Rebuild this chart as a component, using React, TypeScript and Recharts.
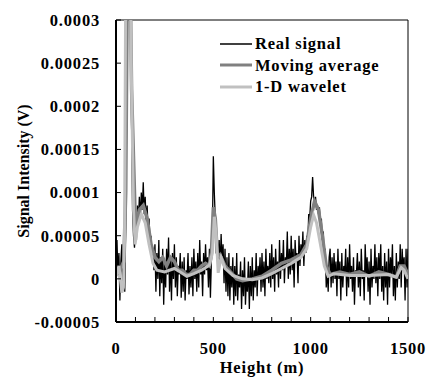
import React from 'react';
import { LineChart, Line, XAxis, YAxis, ReferenceLine } from 'recharts';

// values in units of 1e-5 V
const UNIT = 1e-5;
const REAL_STEP_M = 5;
const REAL_SIGNAL = [
  1.0, 4.5, 0.5, 3.0, -2.5, 2.0, 4.0, -1.0, 3.0, -1.5,
  6, 20, 45, 50, 40, 30, 18, 8, 5, 3.6,
  6, 4.5, 8.5, 6.5, 9.5, 7, 10, 8, 11.2, 7.5,
  9.5, 6.5, 8.5, 5.5, 7, 4, 5, 2.5, 3.5, 1,
  4, -1.5, 3, 0, 4.5, -2, 2.5, -0.5, 3.5, -3,
  2, -1, 3.5, 0.5, 4.8, -1.5, 2.5, -2.5, 3, 0,
  4, -1, 2.5, -2, 1.5, 0.5, 3, -2.2, 2, -1.5,
  2.5, -2.5, 1, 0, 3, -1.8, 1.5, -1, 2.5, -2,
  3.5, 0, 2, -1.5, 3, -1, 4.5, 0.5, 2, -2,
  3, 0.5, 4, 1, 2.5, -1, 3.5, -2.2, 2, 5,
  14.2, 10, 7, 3, 5, 2, 4.5, 1.5, 5.2, 2,
  4, -0.5, 3.5, -1.5, 2.5, -2, 3, -2.5, 1.5, -1,
  2.5, -3, 1.5, -2, 3, -2.5, 0.5, -1, 2, -3.5,
  1, -2, 2.5, -3, 0, -1.5, 2, -3.5, 1.5, -2,
  2.5, -2.5, 1, -1, 3, -2, 1.5, 0, 2.5, -1.5,
  3, -1, 2, -2, 3.5, 0, 1.5, -0.5, 3, -1,
  4, 0, 2.5, -1.5, 3.5, 0.5, 2, -1, 4.5, 0,
  3, 1, 4.5, -0.5, 2.5, 1.5, 5.5, 0, 3.5, 0.5,
  5, 1, 3.5, -1, 4.5, 2, 3, -0.5, 5, 1.5,
  4, 2.5, 5.5, 1.5, 4.5, 3, 5, 4, 7.5, 7,
  9, 9.5, 11.8, 9.5, 9, 9.5, 8, 8.5, 7.5, 8.3,
  6.5, 7, 4.5, 5.5, 2, 3.5, -1, 1, -1.5, 2.5,
  3.5, -1, 2.5, -0.5, 3, 0, 2, -2, 3.5, 0,
  2, -2.5, 3, -1, 1.5, 0.5, 3.5, -2, 2.5, -1,
  4, 0, 1.5, -1.5, 2.5, -3, 1, 0.5, 3, -1,
  2, -2, 3.5, 0, 1, -2.5, 4, 0.5, 2.5, -1.5,
  2, -3, 3.5, -1, 1.5, 0, 4, -0.5, 2.5, -2,
  3, 0, 4, -1.5, 1.5, -2.5, 3, -1, 2, -3,
  3.5, -1, 2.5, 0.5, 4, -2, 1.5, -2.5, 3, -1,
  2, 0, 4, -1, 3.5, 1, 2.5, -2.5, 3.5, -1,
  3.5,
];

const MA_HEIGHTS = [
  0, 20, 40, 50, 60, 70, 80, 100, 120, 140, 160, 180, 200, 220, 240, 260, 280, 300,
  320, 340, 360, 380, 400, 420, 440, 460, 480, 490, 500, 510, 520, 540, 560, 580,
  600, 620, 650, 700, 750, 800, 850, 900, 950, 980, 1000, 1020, 1040, 1060, 1080,
  1100, 1150, 1200, 1250, 1300, 1350, 1400, 1440, 1460, 1480, 1500,
];
const MA_VALUES = [
  0.5, 1, 2, 10, 40, 40, 22, 6, 8, 8.5, 7, 4, 2.5, 2, 2.5, 1.5, 2.5, 2,
  1, 1, 0.5, 0.5, 1, 1, 1.5, 1.8, 1.5, 3, 8.3, 7, 3, 2.5, 1.5, 1,
  0.5, 0, -0.2, 0, 0.3, 1, 1.8, 2.2, 2.8, 4, 7, 9, 8, 5, 1.5,
  0.5, 0.8, 0.5, 0.8, 0.3, 0.8, 0.5, 0.2, 1.5, 1.5, 0.5,
];

const WAV_HEIGHTS = [
  0, 15, 30, 38, 44, 50, 60, 70, 78, 90, 98, 110, 130, 150, 170, 190, 210, 250,
  300, 330, 364, 400, 440, 480, 495, 505, 515, 525, 540, 560, 600, 650, 700, 750,
  800, 850, 900, 950, 980, 1000, 1015, 1030, 1050, 1070, 1090, 1120, 1200, 1300,
  1400, 1440, 1465, 1480, 1500,
];
const WAV_VALUES = [
  0.3, 1.5, -1.6, -1, 5, 35, 60, 45, 25, 8, 4, 6, 7.5, 6.5, 4, 1.8, 1, 0.8,
  1.2, 0.8, 0.3, 0.6, 1.0, 1.6, 3, 7.2, 5, 0.7, 2.5, 1.2, 0.4, 0, -0.1, 0.1,
  0.6, 1.2, 1.8, 2.5, 3.5, 6, 7.4, 6.5, 4, 1.5, 0.3, 0.6, 0.4, 0.4,
  0.5, 0.2, 1.3, 1.0, 0.0,
];

const X_TICKS = [0, 100, 200, 300, 400, 500, 600, 700, 800, 900, 1000, 1100, 1200, 1300, 1400, 1500];
const X_LABELS = [0, 500, 1000, 1500];
const Y_TICKS = [-0.00005, 0, 0.00005, 0.0001, 0.00015, 0.0002, 0.00025, 0.0003];

const SERIES_NAMES = ['Real signal', 'Moving average', '1-D wavelet'];
const COLORS = ['#000000', '#808080', '#c0c0c0'];

const realData = REAL_SIGNAL.map((v, i) => ({ h: i * REAL_STEP_M, v: v * UNIT }));
const maData = MA_HEIGHTS.map((h, i) => ({ h, v: MA_VALUES[i] * UNIT }));
const wavData = WAV_HEIGHTS.map((h, i) => ({ h, v: WAV_VALUES[i] * UNIT }));

const FONT = '"Liberation Serif", "Times New Roman", serif';
const WIDE_TEXT = { fill: '#000', fontFamily: FONT, fontWeight: 'bold', fontSize: 16.5, letterSpacing: 0.8 };

const LegendBox = () => (
  <div
    style={{
      position: 'absolute',
      left: 220,
      top: 33,
      fontFamily: FONT,
      fontWeight: 'bold',
      fontSize: 16.5,
      letterSpacing: 0.8,
      lineHeight: '21.5px',
    }}
  >
    {SERIES_NAMES.map((name, i) => (
      <div key={name} style={{ display: 'flex', alignItems: 'center', whiteSpace: 'nowrap' }}>
        <svg width={34} height={8} style={{ marginRight: 1 }}>
          <line x1={0} y1={4} x2={32} y2={4} stroke={COLORS[i]} strokeWidth={i === 0 ? 1.5 : 3} />
        </svg>
        <span>{name}</span>
      </div>
    ))}
  </div>
);

export default function App() {
  return (
    <div style={{ position: 'absolute', left: 0, top: 0, width: 426, height: 378, background: '#fff' }}>
      <LineChart width={426} height={378} margin={{ top: 20, right: 18, left: 0, bottom: 0 }}>
        <XAxis
          dataKey="h"
          type="number"
          domain={[0, 1500]}
          allowDataOverflow
          ticks={X_TICKS}
          interval={0}
          tickFormatter={(v: number) => (X_LABELS.includes(v) ? String(v) : '')}
          tickSize={-5}
          tickMargin={25}
          height={56}
          axisLine={{ stroke: '#000', strokeWidth: 2 }}
          tickLine={{ stroke: '#000', strokeWidth: 1 }}
          tick={WIDE_TEXT}
          label={{ value: 'Height (m)', position: 'insideBottom', offset: 0, dy: -5, ...WIDE_TEXT }}
        />
        <YAxis
          type="number"
          domain={[-0.00005, 0.0003]}
          allowDataOverflow
          ticks={Y_TICKS}
          interval={0}
          tickFormatter={(v: number) => String(v)}
          width={116}
          tickSize={-5}
          tickMargin={21}
          axisLine={{ stroke: '#000', strokeWidth: 2 }}
          tickLine={{ stroke: '#000', strokeWidth: 1 }}
          tick={WIDE_TEXT}
          label={{ value: 'Signal Intensity (V)', angle: -90, position: 'insideLeft', offset: 23, style: { textAnchor: 'middle' }, fill: '#000', fontFamily: FONT, fontWeight: 'bold', fontSize: 16 }}
        />
        <ReferenceLine y={0.0003} stroke="#000" strokeWidth={1} ifOverflow="visible" />
        <ReferenceLine x={1500} stroke="#000" strokeWidth={1} ifOverflow="visible" />
        <Line data={realData} dataKey="v" name={SERIES_NAMES[0]} stroke={COLORS[0]} strokeWidth={1.3} dot={false} isAnimationActive={false} />
        <Line data={maData} dataKey="v" name={SERIES_NAMES[1]} stroke={COLORS[1]} strokeWidth={3.5} dot={false} isAnimationActive={false} />
        <Line data={wavData} dataKey="v" name={SERIES_NAMES[2]} stroke={COLORS[2]} strokeWidth={3} dot={false} isAnimationActive={false} />
      </LineChart>
      <LegendBox />
    </div>
  );
}
